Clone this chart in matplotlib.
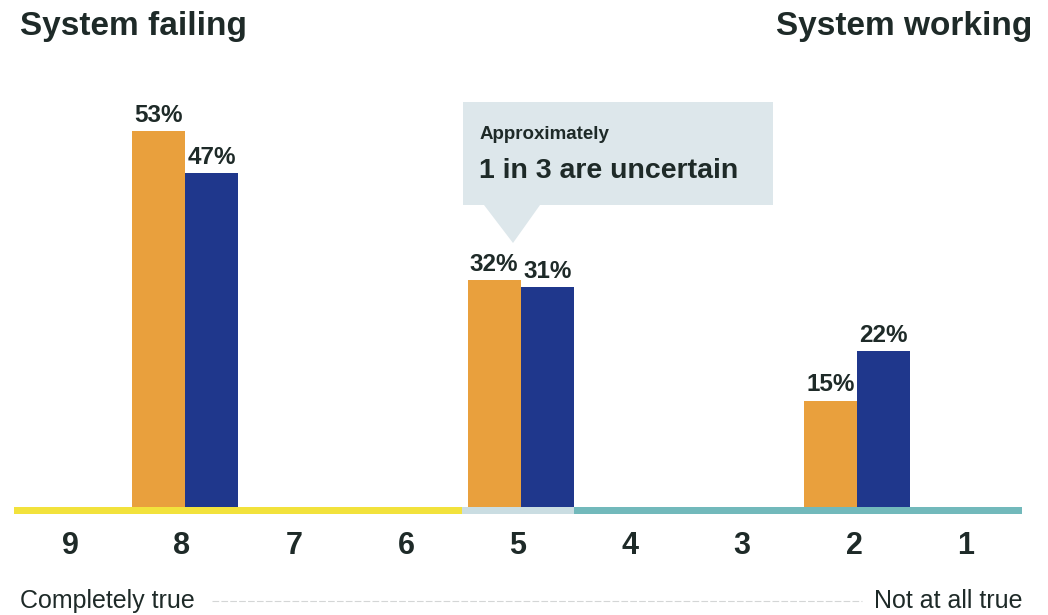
import matplotlib
matplotlib.use("Agg")
import matplotlib.pyplot as plt
from matplotlib.patches import Rectangle, Polygon

# ---- data ----
categories = ["9", "8", "7", "6", "5", "4", "3", "2", "1"]
series_a = [None, 53, None, None, 32, None, None, 15, None]   # orange
series_b = [None, 47, None, None, 31, None, None, 22, None]   # blue
title_left = "System failing"
title_right = "System working"
end_left = "Completely true"
end_right = "Not at all true"
callout_small = "Approximately"
callout_big = "1 in 3 are uncertain"

ORANGE = "#e9a03d"
BLUE = "#1f378c"
TEXT = "#1e2a28"
FONT = ["Liberation Sans", "DejaVu Sans"]

W, H = 1048, 615
fig = plt.figure(figsize=(W / 100, H / 100), dpi=100)

# overlay axes in pixel coordinates for decorations
ov = fig.add_axes([0, 0, 1, 1], zorder=0)
ov.set_xlim(0, W)
ov.set_ylim(H, 0)
ov.axis("off")

# main axes: x index i at pixel ~70 + 112*i, baseline at y=507
x0, x1 = 14, 1022
y_base = 507
px_per_unit = 7.1
ymax = 60
ax = fig.add_axes([x0 / W, 1 - y_base / H, (x1 - x0) / W, ymax * px_per_unit / H], zorder=2)
ax.patch.set_alpha(0)
ax.set_xlim(-0.5, len(categories) - 0.5)
ax.set_ylim(0, ymax)
for s in ax.spines.values():
    s.set_visible(False)
ax.set_yticks([])
ax.set_xticks(range(len(categories)))
ax.set_xticklabels(categories, fontsize=22, fontweight="bold", color=TEXT, family=FONT)
ax.tick_params(axis="x", length=0, pad=17)

bw = 0.475
off = 0.025
for i, (a, b) in enumerate(zip(series_a, series_b)):
    if a is not None:
        ax.bar(i + off - bw / 2, a, width=bw, color=ORANGE, linewidth=0)
        ax.annotate(f"{a}%", (i + off - bw / 2, a), xytext=(0, 3), textcoords="offset points",
                    ha="center", va="bottom", fontsize=17.5, fontweight="bold", color=TEXT, family=FONT)
    if b is not None:
        ax.bar(i + off + bw / 2, b, width=bw, color=BLUE, linewidth=0)
        ax.annotate(f"{b}%", (i + off + bw / 2, b), xytext=(0, 3), textcoords="offset points",
                    ha="center", va="bottom", fontsize=17.5, fontweight="bold", color=TEXT, family=FONT)

# baseline band (three colours)
band_h = 7 / px_per_unit
for xs, xe, c in [(-0.5, 3.5, "#f2e23c"), (3.5, 4.5, "#cadde2"), (4.5, 8.5, "#72b9bb")]:
    ax.add_patch(Rectangle((xs, -band_h), xe - xs, band_h, color=c, clip_on=False, linewidth=0))

# callout
ov.add_patch(Rectangle((463, 102), 310, 103, color="#dde7eb", linewidth=0))
ov.add_patch(Polygon([(484, 205), (540, 205), (513, 243)], closed=True, color="#dde7eb", linewidth=0))
ov.text(480, 139, callout_small, fontsize=13.5, fontweight="bold", color=TEXT, family=FONT, va="baseline")
ov.text(479, 178, callout_big, fontsize=20.5, fontweight="bold", color=TEXT, family=FONT, va="baseline")

# titles
ov.text(20, 35, title_left, fontsize=24, fontweight="bold", color=TEXT, family=FONT, va="baseline")
ov.text(1032, 35, title_right, fontsize=24, fontweight="bold", color=TEXT, family=FONT, va="baseline", ha="right")

# bottom scale labels
ov.text(20, 608, end_left, fontsize=18, color=TEXT, family=FONT, va="baseline")
ov.text(1022, 608, end_right, fontsize=18, color=TEXT, family=FONT, va="baseline", ha="right")
ov.plot([212, 862], [601, 601], color="#d4d6d6", linewidth=0.8, linestyle=(0, (6, 2)))

fig.savefig("out.png", dpi=100)
